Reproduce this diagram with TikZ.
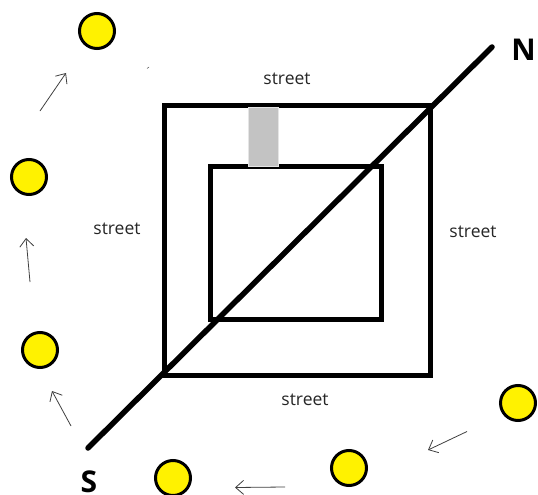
\documentclass[tikz,border=0pt]{standalone}
\usepackage{fontspec}
\setmainfont{Open Sans}
\usetikzlibrary{arrows.meta}
\definecolor{sunyellow}{HTML}{FFF200}
\definecolor{blockgray}{HTML}{C3C3C3}
\tikzset{
  x=1pt,y=-1pt,
  wall/.style={draw=black,line width=5pt,line join=miter},
  axis/.style={draw=black,line width=5.5pt,line cap=round},
  sun/.style={circle,draw=black,fill=sunyellow,line width=3pt,minimum size=35pt,inner sep=0pt},
  trail/.style={draw=black!75,line width=0.8pt,-{Straight Barb[length=8pt,width=14pt,line width=0.8pt]}},
  lab/.style={font=\fontsize{17.5}{20}\selectfont,text=black!85,inner sep=0pt},
  pole/.style={font=\fontsize{30}{32}\bfseries\selectfont,inner sep=0pt,anchor=base}
}
\begin{document}
\begin{tikzpicture}
\useasboundingbox (0,0) rectangle (538,495);
\fill[white] (0,0) rectangle (538,495);
\draw[wall] (164,105.5) rectangle (430,375.5);
\draw[wall] (210,166.5) rectangle (381,319);
\fill[fill=blockgray,draw=black!10,line width=0.6pt] (248.5,107.5) rectangle (278,166);
\coordinate (sEnd) at (88,448);
\coordinate (nEnd) at (492,47);
\draw[axis] (sEnd) -- (nEnd);
\node[sun] (s1) at (97,31) {};
\node[sun] (s2) at (29,177) {};
\node[sun] (s3) at (40,350) {};
\node[sun] (s4) at (173,478) {};
\node[sun] (s5) at (349,468) {};
\node[sun] (s6) at (518,403) {};
\coordinate (a1) at (40,111); \coordinate (b1) at (66,73);
\coordinate (a2) at (30,282); \coordinate (b2) at (26,238);
\coordinate (a3) at (71,426); \coordinate (b3) at (52,391);
\coordinate (a4) at (285,487); \coordinate (b4) at (235,487.5);
\coordinate (a5) at (467,431.5); \coordinate (b5) at (428,450);
\draw[trail] (a1) -- (b1);
\draw[trail] (a2) -- (b2);
\draw[trail] (a3) -- (b3);
\draw[trail] (a4) -- (b4);
\draw[trail] (a5) -- (b5);
\draw[black!60,line width=0.6pt] (147,68.5) -- (149,67);
\node[lab] (t1) at (287,79) {street};
\node[lab] (t2) at (117,229) {street};
\node[lab] (t3) at (473,232) {street};
\node[lab] (t4) at (305,400) {street};
\node[pole] (n) at (523.5,60) {N};
\node[pole] (s) at (89,492.5) {S};
\end{tikzpicture}
\end{document}
